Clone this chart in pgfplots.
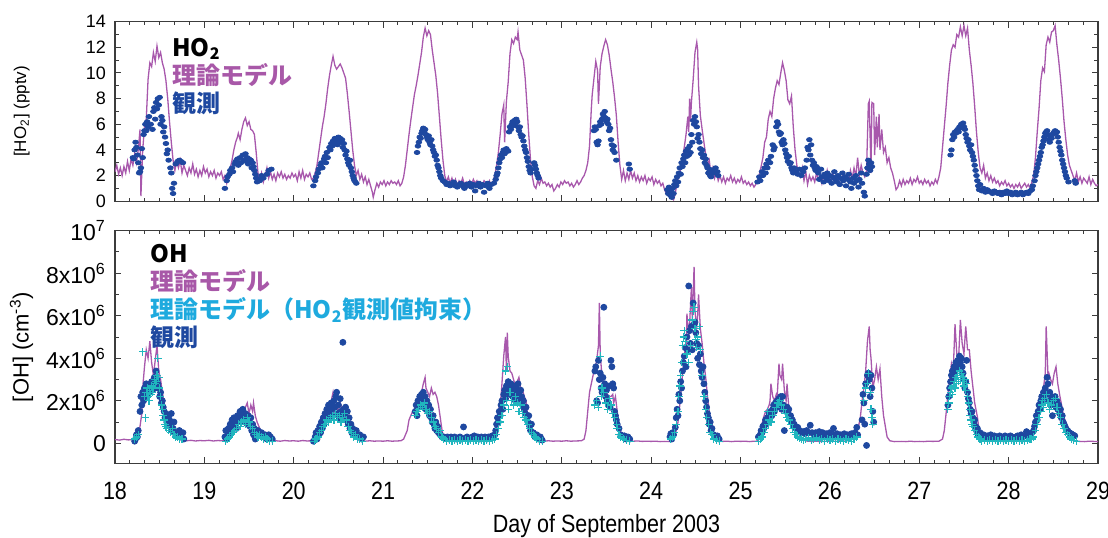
\documentclass[border=0pt]{standalone}
\usepackage{fontspec}
\setmainfont{Liberation Sans}
\newfontfamily\narrowfont[FakeStretch=0.86]{Liberation Sans}
\newfontfamily\jpfont{Noto Sans CJK JP}
\usepackage{pgfplots}
\pgfplotsset{compat=1.18}
\definecolor{modelc}{RGB}{168,88,172}
\definecolor{obsc}{RGB}{30,72,160}
\definecolor{consc}{RGB}{32,182,190}
\definecolor{constext}{RGB}{30,170,222}
\definecolor{modeltext}{RGB}{168,88,168}
\definecolor{framec}{RGB}{60,60,60}
\pgfplotsset{
  every axis/.append style={
    scale only axis, width=491.5pt, xmin=18, xmax=29,
    xtick={18,...,29}, minor x tick num=5,
    axis line style={framec, line width=0.6pt},
    every tick/.style={framec, line width=0.5pt},
    major tick length=3.2pt, minor tick length=1.8pt,
    /pgf/number format/assume math mode=true,
  }
}
\begin{document}
\begin{tikzpicture}
%================ TOP: HO2 ================
\begin{axis}[name=top, at={(0,0)}, anchor=north west,
  height=89.75pt, ymin=0, ymax=14,
  ytick={0,2,...,14}, minor y tick num=1,
  xticklabel=\empty,
  yticklabel style={font=\fontsize{9}{10}\selectfont, xshift=-1pt},
  ylabel={[HO\textsubscript{2}] (pptv)},
  ylabel style={font=\fontsize{8.5}{10}\selectfont, at={(axis description cs:-0.095,0.5)}, anchor=center},
]
\addplot[modelc, line width=0.65pt] coordinates {
(18.00,2.3) (18.02,2.8) (18.04,2.1) (18.06,2.6) (18.08,2.0) (18.10,2.7) (18.12,2.2) (18.14,3.1) (18.16,2.4) (18.18,3.3) (18.20,2.8) (18.22,3.7) (18.24,3.0) (18.26,4.0) (18.28,5.6) (18.29,0.4) (18.31,4.0) (18.33,5.8) (18.35,6.4) (18.37,9.5) (18.39,10.8) (18.41,10.5) (18.43,11.6) (18.45,10.9) (18.47,12.1) (18.49,11.2) (18.51,11.6) (18.53,10.8) (18.55,10.3) (18.57,9.4) (18.59,8.0) (18.61,6.2) (18.63,4.6) (18.65,3.2) (18.67,2.4) (18.69,3.1) (18.71,2.6) (18.73,3.2) (18.75,2.2) (18.77,2.8) (18.79,2.4) (18.81,2.0) (18.83,2.6) (18.85,2.2) (18.87,2.9) (18.89,2.1) (18.91,2.5) (18.93,1.9) (18.95,2.4) (18.97,2.0) (18.99,2.7) (19.01,2.2) (19.03,2.5) (19.05,1.9) (19.07,2.3) (19.09,2.0) (19.11,2.4) (19.13,1.8) (19.15,2.2) (19.17,2.0) (19.19,2.3) (19.21,1.7) (19.23,2.0) (19.25,1.4) (19.27,2.2) (19.29,2.6) (19.31,3.2) (19.33,4.0) (19.35,4.6) (19.37,5.0) (19.38,5.3) (19.40,4.8) (19.42,5.6) (19.44,6.2) (19.46,6.5) (19.48,5.9) (19.50,6.2) (19.52,5.6) (19.54,5.5) (19.56,5.2) (19.58,3.8) (19.60,2.2) (19.62,1.6) (19.64,2.2) (19.66,1.5) (19.68,2.0) (19.70,2.6) (19.72,1.8) (19.74,2.3) (19.76,1.7) (19.78,2.1) (19.80,1.6) (19.82,2.2) (19.84,1.9) (19.86,2.3) (19.88,1.8) (19.90,2.1) (19.92,1.7) (19.94,2.0) (19.96,1.8) (19.98,2.2) (20.00,1.9) (20.02,2.1) (20.04,1.6) (20.06,2.3) (20.08,1.8) (20.10,2.4) (20.12,1.7) (20.14,2.1) (20.16,1.9) (20.18,2.2) (20.20,1.7) (20.22,1.8) (20.24,2.2) (20.26,2.8) (20.28,3.8) (20.30,4.8) (20.32,5.8) (20.34,6.6) (20.36,7.6) (20.38,8.8) (20.40,9.8) (20.42,10.6) (20.44,11.3) (20.46,10.6) (20.48,10.3) (20.50,10.5) (20.52,10.7) (20.54,10.4) (20.56,10.0) (20.58,9.6) (20.60,8.4) (20.62,7.0) (20.64,5.5) (20.66,4.0) (20.68,2.8) (20.70,2.0) (20.72,2.4) (20.74,1.7) (20.76,2.1) (20.78,1.5) (20.80,1.9) (20.82,1.3) (20.84,1.7) (20.86,1.2) (20.88,0.7) (20.89,0.3) (20.91,0.9) (20.93,1.4) (20.95,1.1) (20.97,1.5) (20.99,1.3) (21.01,1.6) (21.03,1.2) (21.05,1.5) (21.07,1.3) (21.09,1.6) (21.11,1.4) (21.13,1.5) (21.15,1.3) (21.17,1.6) (21.19,1.2) (21.21,1.4) (21.23,1.9) (21.25,2.8) (21.27,4.0) (21.29,5.2) (21.31,6.3) (21.33,7.3) (21.35,8.3) (21.37,9.0) (21.39,9.8) (21.41,10.7) (21.43,11.6) (21.45,12.8) (21.47,13.5) (21.49,12.9) (21.51,13.3) (21.53,13.0) (21.55,11.8) (21.57,10.8) (21.59,9.8) (21.61,8.4) (21.63,6.6) (21.65,4.8) (21.67,3.2) (21.69,2.0) (21.71,1.5) (21.73,1.9) (21.75,1.4) (21.77,1.8) (21.79,1.3) (21.81,1.7) (21.83,1.2) (21.85,1.6) (21.87,1.4) (21.89,1.8) (21.91,1.3) (21.93,1.5) (21.95,1.2) (21.97,1.6) (21.99,1.3) (22.01,1.7) (22.03,1.4) (22.05,1.6) (22.07,1.2) (22.09,1.5) (22.11,1.3) (22.13,1.6) (22.15,1.4) (22.17,1.3) (22.19,1.6) (22.21,1.2) (22.23,1.5) (22.25,2.0) (22.27,2.8) (22.29,3.8) (22.31,5.2) (22.33,6.8) (22.35,7.5) (22.36,4.6) (22.38,7.8) (22.40,9.3) (22.42,11.5) (22.44,12.6) (22.46,12.3) (22.48,12.8) (22.50,12.6) (22.51,13.2) (22.53,11.8) (22.55,11.4) (22.57,11.0) (22.59,9.6) (22.61,7.5) (22.63,5.2) (22.65,3.2) (22.67,1.9) (22.69,1.2) (22.71,1.0) (22.73,1.6) (22.75,1.3) (22.77,1.8) (22.79,1.4) (22.81,1.5) (22.83,1.2) (22.85,1.4) (22.87,1.1) (22.89,1.3) (22.91,0.8) (22.93,1.0) (22.95,1.3) (22.97,1.1) (22.99,1.5) (23.01,1.3) (23.03,1.6) (23.05,1.4) (23.07,1.5) (23.09,1.2) (23.11,1.4) (23.13,1.1) (23.15,1.3) (23.17,1.6) (23.19,1.3) (23.21,1.5) (23.23,1.8) (23.25,2.0) (23.27,2.4) (23.29,3.0) (23.31,4.3) (23.33,7.2) (23.34,8.3) (23.36,9.6) (23.38,10.9) (23.40,10.2) (23.41,7.6) (23.43,10.5) (23.45,11.5) (23.47,12.1) (23.49,12.6) (23.51,12.2) (23.53,11.4) (23.55,10.3) (23.57,9.3) (23.59,8.1) (23.61,6.7) (23.63,4.6) (23.65,2.8) (23.67,1.7) (23.69,2.4) (23.71,1.6) (23.73,2.2) (23.75,1.7) (23.77,2.4) (23.79,1.8) (23.81,2.2) (23.83,1.6) (23.85,2.0) (23.87,1.5) (23.89,1.9) (23.91,1.6) (23.93,2.0) (23.95,1.4) (23.97,1.8) (23.99,1.6) (24.01,1.9) (24.03,1.3) (24.05,1.7) (24.07,1.4) (24.09,1.6) (24.11,1.2) (24.13,1.4) (24.15,0.9) (24.17,0.6) (24.19,1.0) (24.21,0.5) (24.23,0.2) (24.25,0.1) (24.27,0.6) (24.29,1.5) (24.31,1.9) (24.33,2.6) (24.35,3.3) (24.37,4.2) (24.39,5.2) (24.41,6.6) (24.42,5.4) (24.43,8.0) (24.44,6.2) (24.45,7.7) (24.47,9.5) (24.49,11.6) (24.51,12.4) (24.52,11.8) (24.53,9.0) (24.55,6.7) (24.57,5.6) (24.59,4.6) (24.61,3.6) (24.63,2.8) (24.65,3.2) (24.67,2.0) (24.69,2.6) (24.71,1.8) (24.73,2.3) (24.75,1.6) (24.77,2.0) (24.79,1.5) (24.81,1.9) (24.83,1.4) (24.85,1.8) (24.87,1.6) (24.89,2.0) (24.91,1.5) (24.93,1.8) (24.95,1.4) (24.97,1.7) (24.99,1.5) (25.01,1.9) (25.03,1.4) (25.05,1.6) (25.07,1.3) (25.09,1.5) (25.11,1.2) (25.13,1.4) (25.15,1.1) (25.17,1.3) (25.19,1.6) (25.21,2.1) (25.23,2.7) (25.25,3.4) (25.27,4.6) (25.29,5.0) (25.31,6.4) (25.33,7.0) (25.35,6.6) (25.37,8.0) (25.39,8.8) (25.41,9.4) (25.43,9.1) (25.45,10.0) (25.47,10.8) (25.49,10.2) (25.51,9.4) (25.53,7.9) (25.55,7.6) (25.57,8.2) (25.59,5.8) (25.61,4.0) (25.63,2.8) (25.65,2.2) (25.67,1.9) (25.69,2.6) (25.71,1.6) (25.73,2.3) (25.75,1.3) (25.77,2.0) (25.79,1.6) (25.81,1.9) (25.83,1.5) (25.85,2.2) (25.87,1.7) (25.89,2.0) (25.91,1.4) (25.93,2.1) (25.95,1.6) (25.97,2.4) (25.99,1.8) (26.01,1.5) (26.03,2.2) (26.05,1.7) (26.07,2.0) (26.09,1.4) (26.11,1.9) (26.13,1.5) (26.15,2.2) (26.17,1.6) (26.19,2.0) (26.21,1.5) (26.23,2.4) (26.25,1.8) (26.27,2.6) (26.29,1.9) (26.31,3.4) (26.33,2.0) (26.35,2.8) (26.37,2.2) (26.39,1.9) (26.41,2.4) (26.43,7.6) (26.44,7.8) (26.46,2.2) (26.47,7.7) (26.49,7.6) (26.50,3.6) (26.52,6.6) (26.53,4.2) (26.55,6.8) (26.56,4.0) (26.58,5.6) (26.60,3.8) (26.62,4.2) (26.64,3.0) (26.66,3.4) (26.68,2.6) (26.70,2.2) (26.72,1.6) (26.74,0.9) (26.76,1.1) (26.78,1.6) (26.80,1.2) (26.82,1.7) (26.84,1.3) (26.86,1.6) (26.88,1.4) (26.90,1.8) (26.92,1.3) (26.94,1.7) (26.96,1.5) (26.98,1.9) (27.00,1.4) (27.02,1.6) (27.04,1.3) (27.06,1.7) (27.08,1.4) (27.10,1.6) (27.12,1.2) (27.14,1.5) (27.16,1.3) (27.18,1.7) (27.20,1.4) (27.22,1.9) (27.24,2.6) (27.26,4.2) (27.28,5.8) (27.30,7.4) (27.32,9.2) (27.34,10.6) (27.36,11.8) (27.38,12.2) (27.40,12.0) (27.42,13.0) (27.44,12.8) (27.46,13.6) (27.48,12.9) (27.50,13.7) (27.52,12.9) (27.54,13.5) (27.56,11.8) (27.58,10.6) (27.60,9.2) (27.62,7.4) (27.64,5.4) (27.66,3.8) (27.68,2.6) (27.70,2.2) (27.72,2.8) (27.74,1.8) (27.76,2.2) (27.78,1.6) (27.80,2.0) (27.82,1.5) (27.84,1.8) (27.86,1.4) (27.88,1.6) (27.90,1.2) (27.92,1.5) (27.94,1.3) (27.96,1.6) (27.98,1.2) (28.00,1.4) (28.02,1.1) (28.04,1.3) (28.06,1.0) (28.08,1.3) (28.10,1.1) (28.12,1.4) (28.14,1.0) (28.16,1.2) (28.18,1.4) (28.20,1.1) (28.22,1.3) (28.24,1.0) (28.26,1.5) (28.28,2.0) (28.30,3.4) (28.32,5.4) (28.34,7.2) (28.36,9.4) (28.38,10.4) (28.40,10.1) (28.42,12.2) (28.44,12.8) (28.46,12.4) (28.48,13.2) (28.50,13.3) (28.52,13.7) (28.54,12.2) (28.56,11.0) (28.58,9.6) (28.60,8.0) (28.62,6.2) (28.64,4.8) (28.66,3.6) (28.68,2.8) (28.70,2.4) (28.72,2.0) (28.74,1.6) (28.76,2.2) (28.78,1.5) (28.80,1.9) (28.82,1.4) (28.84,1.8) (28.86,1.6) (28.88,1.4) (28.90,1.9) (28.92,1.3) (28.94,1.7) (28.96,1.4) (28.98,1.2) (29.00,1.3)
};
\addplot[only marks, mark=*, mark size=1.05pt, color=obsc, mark options={xscale=1.35}] coordinates {
(18.20,3.4) (18.21,3.3) (18.22,4.0) (18.23,4.6) (18.24,4.2) (18.25,3.6) (18.26,3.0) (18.27,2.2) (18.28,2.3) (18.29,2.6) (18.30,4.1) (18.31,3.4) (18.32,5.2) (18.33,5.5) (18.34,6.0) (18.35,5.5) (18.36,6.2) (18.37,5.8) (18.38,6.6) (18.40,6.0) (18.42,5.6) (18.43,7.0) (18.44,7.3) (18.45,6.4) (18.46,7.7) (18.47,7.2) (18.48,8.0) (18.49,7.5) (18.50,8.1) (18.51,6.0) (18.52,6.6) (18.53,6.3) (18.54,5.4) (18.55,5.8) (18.56,5.0) (18.57,4.5) (18.58,3.7) (18.59,4.0) (18.60,3.2) (18.62,2.6) (18.63,2.2) (18.64,1.0) (18.65,0.6) (18.66,1.4) (18.68,2.9) (18.70,3.1) (18.72,3.2) (18.74,3.1) (18.76,3.0)
(19.23,1.0) (19.25,1.6) (19.26,1.9) (19.28,2.1) (19.29,2.4) (19.31,2.6) (19.32,2.3) (19.34,2.9) (19.35,3.1) (19.37,3.3) (19.38,2.8) (19.40,3.4) (19.41,3.0) (19.43,3.6) (19.44,3.2) (19.46,3.7) (19.47,3.1) (19.48,3.4) (19.49,2.9) (19.50,3.3) (19.51,3.0) (19.52,3.2) (19.53,2.6) (19.54,3.0) (19.55,2.7) (19.56,2.4) (19.57,2.1) (19.58,1.8) (19.59,1.5) (19.60,1.7) (19.62,1.6) (19.64,2.0) (19.66,1.8) (19.70,2.1) (19.72,2.4) (19.75,2.5)
(20.22,1.2) (20.24,1.6) (20.25,1.9) (20.27,2.2) (20.28,2.5) (20.30,2.8) (20.31,3.0) (20.32,2.6) (20.34,3.3) (20.35,3.5) (20.36,3.0) (20.37,3.8) (20.38,3.4) (20.40,4.2) (20.41,4.0) (20.42,4.5) (20.43,4.3) (20.44,4.7) (20.45,4.5) (20.46,4.9) (20.47,4.6) (20.48,4.8) (20.49,4.4) (20.50,5.0) (20.51,4.7) (20.52,4.9) (20.53,4.6) (20.54,4.8) (20.55,4.2) (20.56,4.5) (20.57,4.0) (20.58,3.6) (20.59,3.9) (20.60,3.3) (20.61,3.0) (20.62,2.8) (20.63,3.2) (20.64,2.6) (20.65,2.3) (20.66,2.0) (20.67,1.8) (20.68,1.6) (20.70,1.4)
(21.38,3.8) (21.39,4.3) (21.40,4.6) (21.41,5.0) (21.42,4.9) (21.43,5.3) (21.44,5.5) (21.45,5.7) (21.46,5.4) (21.47,5.6) (21.48,5.2) (21.49,5.0) (21.50,4.8) (21.51,5.1) (21.52,4.6) (21.53,4.4) (21.54,4.8) (21.55,4.3) (21.56,4.0) (21.57,3.8) (21.58,3.5) (21.59,3.6) (21.60,3.2) (21.61,2.8) (21.62,2.6) (21.63,2.3) (21.64,2.0) (21.65,1.8) (21.67,1.6) (21.69,1.5) (21.71,1.3) (21.73,1.4) (21.75,1.2) (21.77,1.3) (21.79,1.5) (21.81,1.2) (21.83,1.1) (21.85,1.3) (21.87,1.4) (21.89,1.2) (21.91,1.0) (21.93,1.3) (21.95,1.2) (21.97,1.4) (21.99,1.1) (22.01,1.3) (22.03,0.8) (22.05,1.2) (22.07,1.4) (22.09,1.1) (22.11,1.3) (22.13,0.7) (22.15,1.2) (22.17,1.4) (22.19,1.0) (22.21,1.3)
(22.24,1.4) (22.26,1.7) (22.27,2.0) (22.28,2.2) (22.29,2.6) (22.30,3.0) (22.31,3.3) (22.32,3.6) (22.33,3.4) (22.34,3.8) (22.35,4.0) (22.36,3.7) (22.38,4.1) (22.40,3.9) (22.41,5.4) (22.42,5.8) (22.43,5.6) (22.44,6.0) (22.45,6.2) (22.46,5.9) (22.47,6.3) (22.48,6.1) (22.49,6.4) (22.50,6.2) (22.51,5.8) (22.52,5.5) (22.53,5.8) (22.54,5.2) (22.55,5.0) (22.56,5.1) (22.57,4.7) (22.58,4.3) (22.59,4.0) (22.60,3.8) (22.61,3.4) (22.62,3.1) (22.63,2.7) (22.64,2.4) (22.65,2.2) (22.66,2.5) (22.69,3.0) (22.70,2.8) (22.71,2.5) (22.72,2.2) (22.73,2.0) (22.74,1.8)
(23.36,5.5) (23.37,5.8) (23.38,5.6) (23.39,4.6) (23.40,4.4) (23.41,4.7) (23.42,5.9) (23.43,6.2) (23.44,6.0) (23.45,6.4) (23.46,6.8) (23.47,6.6) (23.48,7.0) (23.49,6.5) (23.50,6.2) (23.51,6.4) (23.52,6.0) (23.53,5.5) (23.54,5.7) (23.55,4.8) (23.56,4.4) (23.57,4.0) (23.58,4.3) (23.59,3.8) (23.61,3.2) (23.75,2.9) (23.76,2.5)
(24.18,0.9) (24.19,0.6) (24.20,1.1) (24.21,0.5) (24.22,0.8) (24.23,0.3) (24.24,1.0) (24.25,0.6) (24.26,1.3) (24.27,1.6) (24.28,1.2) (24.29,1.9) (24.30,1.5) (24.31,2.2) (24.32,2.6) (24.33,2.1) (24.34,3.0) (24.35,2.7) (24.36,3.3) (24.37,3.6) (24.38,3.0) (24.39,3.9) (24.40,3.5) (24.41,4.1) (24.42,3.6) (24.43,4.3) (24.44,3.8) (24.45,5.2) (24.46,4.6) (24.47,6.3) (24.48,6.0) (24.49,6.6) (24.50,6.2) (24.51,5.8) (24.52,4.9) (24.53,5.2) (24.54,4.6) (24.55,4.1) (24.56,3.7) (24.57,4.0) (24.58,3.4) (24.59,3.6) (24.60,3.0) (24.61,3.3) (24.62,2.8) (24.63,2.6) (24.64,2.2) (24.65,2.5) (24.66,2.0) (24.67,1.9) (24.68,2.4) (24.70,2.2) (24.72,2.6) (24.74,2.3) (24.75,2.0)
(25.19,1.5) (25.21,1.9) (25.22,1.6) (25.24,2.3) (25.25,2.0) (25.27,2.6) (25.28,2.2) (25.29,2.9) (25.30,2.6) (25.31,3.2) (25.33,3.0) (25.34,3.5) (25.36,4.4) (25.37,4.0) (25.38,4.2) (25.40,5.8) (25.41,6.2) (25.42,6.0) (25.43,5.4) (25.44,5.2) (25.45,5.3) (25.46,4.6) (25.47,4.4) (25.48,4.8) (25.49,4.5) (25.50,4.0) (25.51,3.7) (25.52,3.4) (25.53,3.1) (25.54,3.5) (25.55,2.9) (25.56,3.0) (25.57,2.6) (25.58,2.4) (25.59,2.2) (25.60,2.6) (25.62,2.3) (25.64,2.1) (25.66,2.5) (25.68,2.0) (25.70,2.3) (25.72,2.6) (25.74,3.2) (25.75,4.2) (25.76,4.0) (25.77,4.8) (25.78,3.6) (25.79,4.4) (25.80,3.2) (25.81,2.8) (25.82,3.0) (25.83,2.6) (25.84,2.4) (25.85,2.7) (25.87,2.2) (25.88,1.7) (25.90,2.5) (25.91,1.9) (25.93,1.5) (25.94,2.1) (25.96,1.8) (25.97,2.2) (25.99,1.6) (26.00,2.0) (26.02,1.4) (26.03,1.9) (26.05,2.3) (26.06,1.7) (26.08,1.5) (26.09,2.0) (26.11,1.3) (26.12,1.8) (26.14,2.2) (26.15,1.6) (26.17,1.9) (26.18,1.2) (26.20,1.7) (26.21,2.1) (26.23,1.5) (26.24,1.0) (26.26,1.8) (26.27,1.4) (26.29,2.0) (26.30,1.6) (26.32,1.1) (26.33,1.7) (26.35,2.2) (26.36,1.4) (26.38,0.7) (26.39,0.4) (26.41,2.1) (26.42,2.6) (26.43,3.2) (26.44,2.9) (26.45,2.4) (26.46,3.0) (26.47,2.7)
(27.35,3.6) (27.36,4.0) (27.37,4.8) (27.38,5.2) (27.39,5.0) (27.40,5.4) (27.41,5.3) (27.42,5.5) (27.43,5.6) (27.44,5.4) (27.45,5.8) (27.46,5.7) (27.47,6.0) (27.48,5.9) (27.49,6.1) (27.50,5.8) (27.51,5.6) (27.52,5.2) (27.53,4.9) (27.54,4.6) (27.55,4.8) (27.56,4.3) (27.57,4.0) (27.58,4.4) (27.59,3.8) (27.60,3.5) (27.61,3.2) (27.62,2.8) (27.63,2.4) (27.64,2.0) (27.65,1.6) (27.66,1.2) (27.67,0.9) (27.68,1.3) (27.70,0.8) (27.72,1.0) (27.74,0.7) (27.76,0.9) (27.78,0.8) (27.80,0.7) (27.82,0.6) (27.84,0.8) (27.86,0.7) (27.88,0.6) (27.90,0.7) (27.92,0.5) (27.94,0.7) (27.96,0.6) (27.98,0.8) (28.00,0.6) (28.02,0.7) (28.04,0.5) (28.06,0.6) (28.08,0.7) (28.10,0.5) (28.12,0.6) (28.14,0.7) (28.16,0.5) (28.18,0.6) (28.20,0.7) (28.22,0.6) (28.24,0.8) (28.26,0.9)
(28.27,1.2) (28.29,1.6) (28.30,2.0) (28.31,2.3) (28.32,2.6) (28.33,2.9) (28.34,3.2) (28.35,3.5) (28.36,3.8) (28.37,4.2) (28.38,4.4) (28.39,4.7) (28.40,5.0) (28.41,5.3) (28.42,5.4) (28.43,5.5) (28.44,5.2) (28.45,4.8) (28.46,4.6) (28.47,5.0) (28.48,4.9) (28.49,5.2) (28.50,5.3) (28.51,5.4) (28.52,5.5) (28.53,5.3) (28.54,5.4) (28.55,5.0) (28.56,4.6) (28.57,4.2) (28.58,3.9) (28.59,3.6) (28.60,3.2) (28.61,2.9) (28.62,2.6) (28.63,2.3) (28.64,2.0) (28.65,1.8) (28.67,1.5) (28.74,1.6) (28.75,1.4)
};
\node[anchor=west, inner sep=0pt, font=\jpfont\bfseries\fontsize{12}{14}\selectfont, text=black] at (rel axis cs:0.058,0.848) {HO\textsubscript{2}};
\node[anchor=west, inner sep=0pt, font=\jpfont\bfseries\fontsize{12}{14}\selectfont, text=modeltext] at (rel axis cs:0.058,0.702) {理論モデル};
\node[anchor=west, inner sep=0pt, font=\jpfont\bfseries\fontsize{12}{14}\selectfont, text=obsc] at (rel axis cs:0.058,0.545) {観測};
\end{axis}
%================ BOTTOM: OH ================
\begin{axis}[at={(0,-104.5pt)}, anchor=north west,
  height=116.4pt, ymin=-0.95, ymax=10,
  ytick={0,2,4,6,8,10}, minor y tick num=1,
  yticklabels={0,2x10\textsuperscript{6},4x10\textsuperscript{6},6x10\textsuperscript{6},8x10\textsuperscript{6},10\textsuperscript{7}},
  yticklabel style={font=\fontsize{11.5}{13}\selectfont, xshift=-1pt},
  xticklabel style={font=\narrowfont\fontsize{12.5}{14}\selectfont, yshift=-5.5pt},
  ylabel={[OH] (cm\textsuperscript{-3})},
  ylabel style={font=\fontsize{11}{13}\selectfont, at={(axis description cs:-0.095,0.5)}, anchor=center},
  xlabel={Day of September 2003},
  xlabel style={font=\narrowfont\fontsize{12.5}{14}\selectfont, inner sep=0pt, at={(axis description cs:0.5,-0.268)}, anchor=center},
]
\addplot[modelc, line width=0.65pt] coordinates {
(18.00,0.18) (18.05,0.15) (18.10,0.19) (18.15,0.16) (18.20,0.18) (18.24,0.22) (18.26,0.4) (18.28,0.8) (18.30,1.4) (18.31,2.6) (18.33,3.6) (18.35,4.4) (18.37,4.0) (18.39,4.8) (18.41,3.8) (18.43,3.2) (18.45,3.9) (18.47,4.6) (18.49,3.4) (18.51,3.0) (18.53,2.4) (18.55,1.9) (18.57,1.5) (18.59,1.2) (18.61,0.9) (18.63,0.6) (18.66,0.35) (18.70,0.2) (18.75,0.15) (18.80,0.12) (18.85,0.14) (18.90,0.11) (18.95,0.13) (19.00,0.12) (19.05,0.14) (19.10,0.11) (19.15,0.13) (19.20,0.12) (19.24,0.15) (19.26,0.3) (19.28,0.5) (19.30,0.7) (19.32,0.9) (19.34,1.0) (19.36,1.1) (19.38,1.3) (19.40,1.2) (19.42,1.5) (19.44,1.3) (19.46,1.7) (19.48,1.9) (19.50,1.4) (19.52,1.8) (19.54,1.5) (19.55,1.9) (19.57,1.3) (19.59,1.0) (19.61,0.8) (19.63,0.6) (19.65,0.4) (19.68,0.25) (19.72,0.15) (19.80,0.12) (19.85,0.1) (19.90,0.13) (19.95,0.11) (20.00,0.12) (20.05,0.1) (20.10,0.13) (20.15,0.11) (20.20,0.12) (20.23,0.18) (20.25,0.3) (20.28,0.5) (20.31,0.8) (20.34,1.0) (20.36,1.3) (20.38,1.5) (20.40,1.7) (20.42,2.0) (20.44,2.4) (20.46,1.8) (20.48,1.7) (20.50,1.5) (20.52,1.9) (20.54,1.6) (20.56,1.4) (20.58,1.5) (20.60,1.2) (20.62,1.0) (20.64,0.7) (20.66,0.5) (20.68,0.3) (20.71,0.2) (20.75,0.12) (20.80,0.1) (20.85,0.12) (20.90,0.1) (20.95,0.11) (21.00,0.1) (21.05,0.12) (21.10,0.1) (21.15,0.11) (21.20,0.12) (21.23,0.2) (21.25,0.4) (21.27,0.6) (21.29,1.1) (21.31,1.3) (21.33,1.5) (21.35,1.6) (21.37,1.7) (21.39,1.9) (21.41,2.2) (21.43,2.4) (21.45,2.8) (21.47,3.1) (21.48,2.6) (21.50,2.4) (21.52,2.2) (21.54,2.6) (21.56,2.3) (21.58,2.4) (21.60,2.2) (21.62,1.8) (21.64,1.2) (21.66,0.6) (21.68,0.25) (21.72,0.15) (21.80,0.12) (21.85,0.14) (21.90,0.11) (21.95,0.13) (22.00,0.12) (22.05,0.14) (22.10,0.11) (22.15,0.13) (22.20,0.12) (22.24,0.2) (22.26,0.45) (22.28,0.9) (22.30,1.8) (22.32,2.2) (22.33,2.8) (22.35,4.1) (22.37,5.0) (22.38,3.4) (22.39,5.2) (22.40,4.1) (22.42,3.4) (22.44,3.3) (22.46,3.0) (22.48,2.7) (22.50,2.9) (22.52,3.1) (22.54,2.6) (22.56,2.5) (22.58,2.2) (22.60,2.0) (22.62,1.2) (22.64,0.7) (22.66,0.35) (22.69,0.2) (22.73,0.12) (22.80,0.1) (22.85,0.12) (22.90,0.1) (22.95,0.11) (23.00,0.1) (23.05,0.12) (23.10,0.1) (23.15,0.11) (23.22,0.12) (23.25,0.2) (23.27,0.6) (23.29,1.5) (23.31,2.4) (23.33,2.8) (23.35,3.2) (23.37,3.5) (23.39,3.9) (23.41,4.6) (23.42,6.6) (23.43,4.2) (23.45,3.1) (23.47,2.8) (23.49,2.5) (23.51,2.3) (23.53,2.2) (23.55,2.2) (23.57,2.3) (23.58,1.9) (23.60,2.2) (23.62,1.5) (23.64,0.9) (23.66,0.5) (23.69,0.2) (23.73,0.12) (23.80,0.1) (23.85,0.11) (23.90,0.09) (23.95,0.1) (24.00,0.09) (24.05,0.1) (24.10,0.08) (24.15,0.09) (24.20,0.08) (24.24,0.1) (24.26,0.3) (24.28,0.6) (24.30,1.0) (24.32,1.8) (24.34,2.8) (24.36,3.6) (24.38,4.5) (24.39,4.0) (24.40,6.1) (24.42,5.0) (24.43,5.6) (24.45,7.35) (24.46,5.8) (24.48,8.3) (24.49,6.2) (24.51,5.5) (24.52,6.0) (24.53,7.0) (24.55,5.4) (24.57,4.7) (24.59,3.8) (24.61,3.1) (24.63,2.2) (24.65,1.5) (24.67,0.8) (24.69,0.4) (24.72,0.15) (24.76,0.1) (24.80,0.09) (24.85,0.1) (24.90,0.08) (24.95,0.1) (25.00,0.09) (25.05,0.1) (25.10,0.08) (25.15,0.1) (25.18,0.1) (25.20,0.2) (25.22,0.5) (25.24,0.9) (25.26,1.25) (25.28,1.5) (25.30,1.6) (25.32,1.8) (25.33,2.0) (25.34,2.8) (25.36,2.2) (25.38,2.0) (25.40,2.3) (25.41,2.2) (25.43,3.75) (25.44,3.2) (25.46,3.0) (25.47,3.75) (25.49,2.5) (25.51,2.0) (25.52,2.8) (25.54,1.7) (25.57,1.25) (25.60,0.9) (25.63,0.6) (25.66,0.35) (25.70,0.15) (25.75,0.1) (25.80,0.09) (25.85,0.1) (25.90,0.08) (25.95,0.1) (26.00,0.09) (26.05,0.1) (26.10,0.09) (26.15,0.1) (26.20,0.12) (26.25,0.2) (26.28,0.3) (26.30,0.5) (26.32,0.8) (26.34,1.2) (26.36,2.0) (26.38,2.6) (26.40,3.4) (26.42,4.8) (26.44,5.5) (26.45,4.4) (26.46,4.0) (26.48,2.6) (26.50,3.0) (26.52,3.6) (26.54,3.0) (26.56,3.5) (26.58,2.2) (26.60,1.3) (26.62,0.8) (26.64,0.3) (26.67,0.12) (26.72,0.08) (26.80,0.09) (26.85,0.08) (26.90,0.1) (26.95,0.08) (27.00,0.09) (27.05,0.08) (27.10,0.1) (27.15,0.09) (27.22,0.1) (27.26,0.2) (27.28,0.6) (27.30,1.4) (27.32,2.3) (27.34,3.0) (27.36,3.75) (27.38,3.4) (27.40,5.6) (27.42,4.2) (27.44,4.0) (27.46,5.8) (27.48,4.7) (27.50,4.2) (27.52,5.5) (27.54,4.4) (27.56,4.4) (27.58,3.4) (27.60,2.65) (27.62,1.9) (27.65,1.25) (27.67,0.6) (27.69,0.25) (27.73,0.12) (27.80,0.1) (27.85,0.09) (27.90,0.1) (27.95,0.08) (28.00,0.1) (28.05,0.09) (28.10,0.1) (28.15,0.08) (28.20,0.1) (28.24,0.1) (28.27,0.3) (28.29,0.8) (28.31,1.4) (28.33,1.7) (28.35,2.0) (28.37,2.3) (28.39,2.6) (28.41,3.3) (28.42,5.5) (28.44,3.2) (28.45,3.3) (28.47,3.0) (28.49,2.8) (28.51,3.3) (28.53,3.6) (28.55,2.8) (28.57,2.3) (28.59,1.85) (28.61,1.4) (28.64,0.9) (28.67,0.4) (28.70,0.15) (28.75,0.1) (28.80,0.09) (28.85,0.08) (28.90,0.1) (28.95,0.09) (29.00,0.08)
};
\addplot[only marks, mark=*, mark size=1.5pt, color=obsc] coordinates {
(18.22,0.1) (18.23,0.2) (18.24,0.4) (18.25,0.3) (18.26,0.6) (18.28,1.5) (18.29,2.2) (18.30,1.8) (18.31,2.4) (18.32,2.0) (18.33,2.6) (18.34,2.2) (18.35,2.8) (18.36,2.5) (18.37,2.3) (18.38,2.7) (18.39,2.4) (18.40,2.6) (18.41,2.9) (18.42,2.5) (18.43,2.8) (18.44,3.1) (18.45,2.6) (18.46,3.4) (18.47,3.0) (18.48,2.8) (18.49,2.6) (18.50,2.2) (18.51,2.4) (18.52,1.9) (18.53,2.0) (18.54,1.7) (18.55,1.5) (18.56,1.2) (18.57,1.4) (18.58,1.0) (18.59,1.2) (18.60,0.9) (18.61,1.1) (18.62,0.8) (18.63,1.4) (18.64,0.6) (18.65,0.7) (18.66,1.0) (18.68,0.4) (18.70,0.5) (18.72,0.6) (18.74,0.3) (18.76,0.5) (18.77,0.2)
(19.23,0.3) (19.24,0.6) (19.25,0.2) (19.26,0.4) (19.27,0.7) (19.28,0.5) (19.29,0.9) (19.30,0.6) (19.31,1.1) (19.32,0.8) (19.33,1.2) (19.34,0.9) (19.35,1.0) (19.36,0.7) (19.37,1.3) (19.38,1.0) (19.39,1.2) (19.40,1.5) (19.41,1.1) (19.42,1.3) (19.43,1.6) (19.44,1.2) (19.45,1.0) (19.46,1.4) (19.47,1.1) (19.48,0.9) (19.49,1.3) (19.50,1.0) (19.51,0.8) (19.52,1.2) (19.53,0.6) (19.54,0.9) (19.55,0.4) (19.56,0.7) (19.57,0.2) (19.58,0.5) (19.60,0.6) (19.62,0.4) (19.64,0.5) (19.66,0.3) (19.68,0.4) (19.70,0.2) (19.72,0.4) (19.74,0.3) (19.76,0.2)
(20.22,0.1) (20.24,0.3) (20.25,0.5) (20.26,0.2) (20.27,0.6) (20.28,0.4) (20.29,0.8) (20.30,0.5) (20.31,1.0) (20.32,0.7) (20.33,1.2) (20.34,0.9) (20.35,1.4) (20.36,1.1) (20.37,1.6) (20.38,1.3) (20.39,1.8) (20.40,1.5) (20.41,1.2) (20.42,1.9) (20.43,1.6) (20.44,1.3) (20.45,2.0) (20.46,1.7) (20.47,2.2) (20.48,2.4) (20.49,1.4) (20.50,1.8) (20.51,1.2) (20.52,2.1) (20.53,1.5) (20.54,1.3) (20.55,4.75) (20.56,1.6) (20.57,1.4) (20.58,1.7) (20.59,1.1) (20.60,1.5) (20.61,0.9) (20.62,1.2) (20.63,0.7) (20.64,0.9) (20.65,0.5) (20.66,0.7) (20.68,0.4) (20.70,0.6) (20.72,0.3) (20.74,0.4) (20.76,0.2) (20.78,0.3)
(21.36,1.5) (21.37,1.8) (21.38,1.3) (21.39,2.0) (21.40,1.7) (21.41,2.2) (21.42,1.9) (21.43,2.3) (21.44,2.1) (21.45,2.4) (21.46,1.8) (21.47,2.2) (21.48,1.6) (21.49,2.0) (21.50,1.5) (21.51,1.8) (21.52,1.3) (21.53,1.6) (21.54,1.2) (21.55,1.0) (21.56,1.3) (21.57,0.9) (21.58,0.7) (21.59,1.0) (21.60,0.6) (21.61,0.8) (21.62,0.5) (21.64,0.4) (21.66,0.3)
(21.68,0.3) (21.70,0.25) (21.72,0.3) (21.74,0.2) (21.76,0.3) (21.78,0.25) (21.80,0.3) (21.82,0.2) (21.84,0.25) (21.86,0.3) (21.88,0.2) (21.90,0.77) (21.92,0.25) (21.94,0.3) (21.96,0.2) (21.98,0.25) (22.00,0.3) (22.02,0.35) (22.04,0.25) (22.06,0.3) (22.08,0.2) (22.10,0.3) (22.12,0.25) (22.14,0.3) (22.16,0.2) (22.18,0.3) (22.20,0.25) (22.22,0.35)
(22.25,0.4) (22.26,0.6) (22.27,0.9) (22.28,1.2) (22.29,1.0) (22.30,1.5) (22.31,1.3) (22.32,1.8) (22.33,2.0) (22.34,1.6) (22.35,2.3) (22.36,2.5) (22.37,2.1) (22.38,2.7) (22.39,2.4) (22.40,2.9) (22.41,2.6) (22.42,2.3) (22.43,2.8) (22.44,2.5) (22.45,2.2) (22.46,2.7) (22.47,2.4) (22.48,2.0) (22.49,2.6) (22.50,2.3) (22.51,2.8) (22.52,2.4) (22.53,2.1) (22.54,2.5) (22.55,2.2) (22.56,1.8) (22.57,2.0) (22.58,1.6) (22.59,1.4) (22.60,1.7) (22.61,1.2) (22.62,1.0) (22.63,1.3) (22.64,0.8) (22.65,0.6) (22.66,0.9) (22.68,0.5) (22.70,0.3) (22.72,0.4) (22.74,0.2) (22.76,0.3) (22.78,0.15)
(23.37,3.4) (23.38,3.6) (23.39,2.0) (23.40,1.9) (23.41,3.9) (23.42,3.0) (23.43,3.3) (23.44,2.6) (23.45,2.4) (23.46,3.1) (23.47,6.4) (23.48,2.8) (23.49,2.2) (23.50,2.5) (23.51,2.0) (23.52,1.8) (23.53,2.7) (23.54,1.7) (23.55,3.9) (23.56,3.6) (23.57,2.8) (23.58,2.6) (23.59,1.5) (23.60,1.3) (23.61,1.1) (23.62,0.9) (23.64,0.7) (23.66,0.4) (23.68,0.3) (23.70,0.35) (23.72,0.2) (23.74,0.3) (23.76,0.2)
(24.21,0.3) (24.22,0.45) (24.23,0.2) (24.24,0.5) (24.25,0.4) (24.27,0.75) (24.28,1.2) (24.29,1.6) (24.30,1.3) (24.31,2.3) (24.32,2.0) (24.33,2.9) (24.34,2.6) (24.35,3.4) (24.36,3.8) (24.37,4.1) (24.38,4.5) (24.39,3.6) (24.40,5.0) (24.41,4.4) (24.42,7.4) (24.43,5.3) (24.44,4.7) (24.45,5.5) (24.46,4.4) (24.47,6.6) (24.48,5.6) (24.49,5.7) (24.50,5.2) (24.51,4.7) (24.52,4.0) (24.53,4.6) (24.54,3.7) (24.55,4.2) (24.56,3.4) (24.57,3.1) (24.58,3.6) (24.59,2.8) (24.60,2.4) (24.61,2.0) (24.62,1.7) (24.63,1.4) (24.64,1.2) (24.65,0.9) (24.66,1.0) (24.67,0.6) (24.68,0.7) (24.70,0.4) (24.72,0.3) (24.74,0.35) (24.76,0.2)
(25.20,0.3) (25.22,0.4) (25.23,0.6) (25.24,0.5) (25.25,0.8) (25.26,0.7) (25.27,0.9) (25.28,1.1) (25.29,0.9) (25.30,1.2) (25.31,1.0) (25.32,1.4) (25.33,1.2) (25.34,1.5) (25.35,1.3) (25.36,1.6) (25.37,1.8) (25.38,1.5) (25.39,1.9) (25.40,1.7) (25.41,2.0) (25.42,1.8) (25.43,2.1) (25.44,1.9) (25.45,2.2) (25.46,1.6) (25.47,2.2) (25.48,1.8) (25.49,0.6) (25.50,1.7) (25.51,1.5) (25.52,1.7) (25.53,1.4) (25.54,1.6) (25.55,1.2) (25.56,1.3) (25.57,1.0) (25.58,1.1) (25.59,0.8) (25.60,0.9) (25.62,0.7) (25.64,0.75) (25.66,0.6) (25.68,0.5) (25.70,0.55) (25.72,0.45) (25.74,0.6) (25.76,0.5) (25.78,0.85) (25.80,0.5) (25.82,0.4) (25.84,0.5) (25.86,0.45) (25.88,0.55) (25.90,0.4) (25.92,0.5) (25.94,0.35) (25.96,0.45) (25.98,0.4) (26.00,0.5) (26.02,0.35) (26.04,0.7) (26.06,0.4) (26.08,0.45) (26.10,0.35) (26.12,0.4) (26.14,0.3) (26.16,0.45) (26.18,0.35) (26.20,0.4) (26.22,0.3) (26.24,0.45) (26.26,0.35) (26.28,0.5) (26.30,0.75) (26.31,0.4)
(26.36,1.1) (26.37,2.3) (26.38,1.9) (26.39,0.9) (26.40,2.8) (26.41,-0.1) (26.42,3.2) (26.43,3.3) (26.44,3.0) (26.45,2.2) (26.46,3.2) (26.47,2.6) (26.48,1.5) (26.49,1.0)
(27.32,1.8) (27.33,2.2) (27.34,2.6) (27.35,2.9) (27.36,3.2) (27.37,3.4) (27.38,3.0) (27.39,3.6) (27.40,3.3) (27.41,3.8) (27.42,3.5) (27.43,3.9) (27.44,3.7) (27.45,4.1) (27.46,3.8) (27.47,4.0) (27.48,3.6) (27.49,3.3) (27.50,3.0) (27.51,2.6) (27.52,2.9) (27.53,3.9) (27.54,2.4) (27.55,2.1) (27.56,1.9) (27.57,1.6) (27.58,1.4) (27.59,1.5) (27.60,1.2) (27.61,1.0) (27.62,1.1) (27.63,0.8) (27.64,0.6) (27.65,0.7) (27.66,0.4) (27.68,0.5) (27.70,0.3) (27.72,0.4) (27.74,0.3) (27.76,0.35) (27.78,0.25) (27.80,0.4) (27.82,0.3) (27.84,0.35) (27.86,0.25) (27.88,0.3) (27.90,0.35) (27.92,0.3) (27.94,0.25) (27.96,0.35) (27.98,0.3) (28.00,0.25) (28.02,0.35) (28.04,0.3) (28.06,0.25) (28.08,0.3) (28.10,0.35) (28.12,0.3) (28.14,0.4) (28.16,0.3) (28.18,0.35) (28.20,0.55) (28.22,0.4)
(28.24,0.45) (28.26,0.5) (28.28,0.6) (28.29,0.8) (28.30,1.0) (28.31,1.3) (28.32,1.1) (28.33,1.5) (28.34,1.8) (28.35,1.6) (28.36,2.0) (28.37,2.2) (28.38,1.9) (28.39,2.4) (28.40,2.1) (28.41,2.6) (28.42,2.3) (28.43,3.1) (28.44,2.8) (28.45,2.0) (28.46,2.4) (28.47,1.8) (28.48,2.2) (28.49,1.3) (28.50,2.1) (28.51,1.9) (28.52,2.2) (28.53,1.7) (28.54,2.0) (28.55,1.6) (28.56,1.8) (28.57,1.4) (28.58,1.6) (28.59,1.2) (28.60,1.3) (28.61,1.0) (28.62,0.9) (28.63,0.8) (28.64,0.7) (28.66,0.6) (28.68,0.5) (28.70,0.45) (28.72,0.4) (28.74,0.35)
};
\addplot[only marks, mark=+, mark size=1.9pt, color=consc, mark options={line width=0.6pt}] coordinates {
(18.22,0.2) (18.24,0.3) (18.26,0.4) (18.31,4.3) (18.34,1.2) (18.33,2.2) (18.35,2.4) (18.36,2.6) (18.37,2.2) (18.38,2.0) (18.39,2.5) (18.40,2.3) (18.41,2.7) (18.42,2.4) (18.43,2.6) (18.44,3.0) (18.45,2.8) (18.48,4.0) (18.47,3.2) (18.46,2.9) (18.49,3.1) (18.50,2.6) (18.51,2.2) (18.52,1.8) (18.53,1.6) (18.54,1.3) (18.55,1.1) (18.56,0.9) (18.57,0.8) (18.58,0.7) (18.60,0.6) (18.62,0.5) (18.64,0.7) (18.66,0.4) (18.68,0.3) (18.70,0.3) (18.72,0.2) (18.75,0.2)
(19.24,0.1) (19.26,0.2) (19.28,0.3) (19.30,0.4) (19.32,0.5) (19.34,0.6) (19.36,0.7) (19.38,0.9) (19.40,0.8) (19.42,1.0) (19.44,1.1) (19.46,0.9) (19.48,1.2) (19.50,1.0) (19.52,0.8) (19.54,0.7) (19.56,0.5) (19.58,0.4) (19.60,0.3) (19.62,0.4) (19.64,0.3) (19.66,0.2) (19.68,0.3) (19.70,0.2) (19.73,0.1) (19.76,0.1)
(20.23,0.1) (20.25,0.2) (20.27,0.3) (20.29,0.5) (20.31,0.6) (20.33,0.8) (20.35,0.9) (20.37,1.1) (20.39,1.0) (20.41,1.2) (20.43,1.3) (20.45,1.1) (20.47,1.4) (20.49,1.2) (20.51,1.3) (20.53,1.0) (20.55,1.2) (20.57,1.4) (20.59,1.1) (20.61,0.8) (20.63,0.6) (20.65,0.5) (20.67,0.3) (20.69,0.4) (20.71,0.2) (20.74,0.2) (20.77,0.1)
(21.36,1.3) (21.38,1.5) (21.40,1.6) (21.42,1.8) (21.44,1.7) (21.46,1.9) (21.48,1.6) (21.50,1.4) (21.52,1.5) (21.54,1.2) (21.56,1.0) (21.58,0.8) (21.60,0.7) (21.62,0.5) (21.64,0.6) (21.66,0.3) (21.68,0.2) (21.71,0.1) (21.74,0.15) (21.77,0.1) (21.80,0.15) (21.83,0.1) (21.86,0.15) (21.89,0.1) (21.92,0.15) (21.95,0.1) (21.98,0.15) (22.01,0.1) (22.04,0.15) (22.07,0.1) (22.10,0.15) (22.13,0.1) (22.16,0.15) (22.19,0.1) (22.22,0.15)
(22.25,0.2) (22.27,0.4) (22.29,0.7) (22.31,1.0) (22.33,1.3) (22.35,1.8) (22.37,3.4) (22.39,3.6) (22.38,2.0) (22.40,1.6) (22.42,2.4) (22.44,2.0) (22.46,1.8) (22.48,2.2) (22.50,1.9) (22.52,1.5) (22.54,1.8) (22.56,1.4) (22.58,1.2) (22.60,1.1) (22.62,0.9) (22.64,0.7) (22.66,0.5) (22.68,0.4) (22.70,0.3) (22.72,0.2) (22.75,0.1) (22.78,0.1)
(23.37,1.8) (23.39,2.0) (23.41,1.7) (23.43,4.1) (23.44,2.2) (23.45,2.6) (23.47,2.4) (23.49,1.9) (23.51,1.6) (23.53,2.1) (23.55,1.8) (23.57,1.4) (23.59,1.2) (23.61,0.9) (23.62,0.7) (23.64,0.4) (23.66,0.3) (23.69,0.2) (23.72,0.15) (23.76,0.1)
(24.22,0.2) (24.24,0.3) (24.26,0.5) (24.28,0.9) (24.30,1.5) (24.31,2.2) (24.32,2.7) (24.33,3.2) (24.34,3.8) (24.35,4.6) (24.36,5.0) (24.37,5.3) (24.38,4.8) (24.40,4.2) (24.42,3.8) (24.44,4.6) (24.46,5.8) (24.47,6.2) (24.48,6.4) (24.49,5.4) (24.50,4.9) (24.51,4.5) (24.52,5.0) (24.54,5.5) (24.55,4.4) (24.57,3.2) (24.59,2.2) (24.61,1.6) (24.62,1.2) (24.64,0.9) (24.66,0.5) (24.68,0.4) (24.70,0.2) (24.73,0.15) (24.76,0.1)
(25.20,0.1) (25.22,0.2) (25.24,0.3) (25.26,0.5) (25.28,0.7) (25.30,1.5) (25.31,0.9) (25.32,1.1) (25.34,1.0) (25.36,1.3) (25.38,1.5) (25.40,1.7) (25.42,1.9) (25.44,2.0) (25.46,1.8) (25.48,1.6) (25.50,1.4) (25.52,1.2) (25.54,1.1) (25.56,0.9) (25.58,0.7) (25.60,0.5) (25.62,0.4) (25.64,0.3) (25.66,0.25) (25.68,0.2) (25.70,0.15) (25.73,0.2) (25.76,0.25) (25.79,0.15) (25.82,0.2) (25.85,0.25) (25.88,0.15) (25.91,0.2) (25.94,0.1) (25.97,0.2) (26.00,0.15) (26.03,0.2) (26.06,0.1) (26.09,0.2) (26.12,0.15) (26.15,0.1) (26.18,0.2) (26.21,0.15) (26.24,0.1) (26.27,0.2) (26.30,0.3)
(26.38,2.0) (26.40,2.6) (26.42,2.8) (26.43,3.3) (26.45,2.4) (26.46,1.6) (26.47,1.2) (26.48,0.9)
(27.32,1.6) (27.33,1.9) (27.34,2.2) (27.35,2.4) (27.36,2.6) (27.37,2.3) (27.38,2.7) (27.39,2.9) (27.40,2.6) (27.41,3.1) (27.42,2.8) (27.43,3.2) (27.44,2.9) (27.45,3.4) (27.46,3.0) (27.47,3.3) (27.48,2.9) (27.49,3.1) (27.50,2.7) (27.51,3.0) (27.52,2.5) (27.53,2.8) (27.54,2.2) (27.55,1.9) (27.56,1.6) (27.57,1.3) (27.58,1.1) (27.59,0.9) (27.60,0.8) (27.62,0.6) (27.64,0.4) (27.66,0.3) (27.68,0.2) (27.70,0.1) (27.73,0.15) (27.76,0.1) (27.79,0.15) (27.82,0.1) (27.85,0.15) (27.88,0.1) (27.91,0.15) (27.94,0.1) (27.97,0.15) (28.00,0.1) (28.03,0.15) (28.06,0.1) (28.09,0.15) (28.12,0.1) (28.15,0.15) (28.18,0.1) (28.21,0.15) (28.24,0.2)
(28.26,0.2) (28.28,0.3) (28.30,0.6) (28.32,0.9) (28.34,1.2) (28.36,1.5) (28.37,1.8) (28.38,2.0) (28.39,1.7) (28.40,2.1) (28.42,2.3) (28.44,1.9) (28.46,1.6) (28.48,1.8) (28.50,2.0) (28.52,2.1) (28.54,1.7) (28.56,1.4) (28.58,1.2) (28.60,0.9) (28.62,0.7) (28.64,0.5) (28.66,0.4) (28.68,0.3) (28.70,0.2) (28.73,0.15) (28.76,0.1)
};
\node[anchor=west, inner sep=0pt, font=\jpfont\bfseries\fontsize{12}{14}\selectfont, text=black] at (rel axis cs:0.0356,0.90) {OH};
\node[anchor=west, inner sep=0pt, font=\jpfont\bfseries\fontsize{12}{14}\selectfont, text=modeltext] at (rel axis cs:0.0356,0.783) {理論モデル};
\node[anchor=west, inner sep=0pt, font=\jpfont\bfseries\fontsize{12}{14}\selectfont, text=constext] at (rel axis cs:0.0356,0.66) {理論モデル（HO\textsubscript{2}観測値拘束）};
\node[anchor=west, inner sep=0pt, font=\jpfont\bfseries\fontsize{12}{14}\selectfont, text=obsc] at (rel axis cs:0.0356,0.54) {観測};
\end{axis}
\pgfresetboundingbox
\path[use as bounding box] (-57.5pt,10.85pt) rectangle (496.5pt,-257.65pt);
\end{tikzpicture}
\end{document}
